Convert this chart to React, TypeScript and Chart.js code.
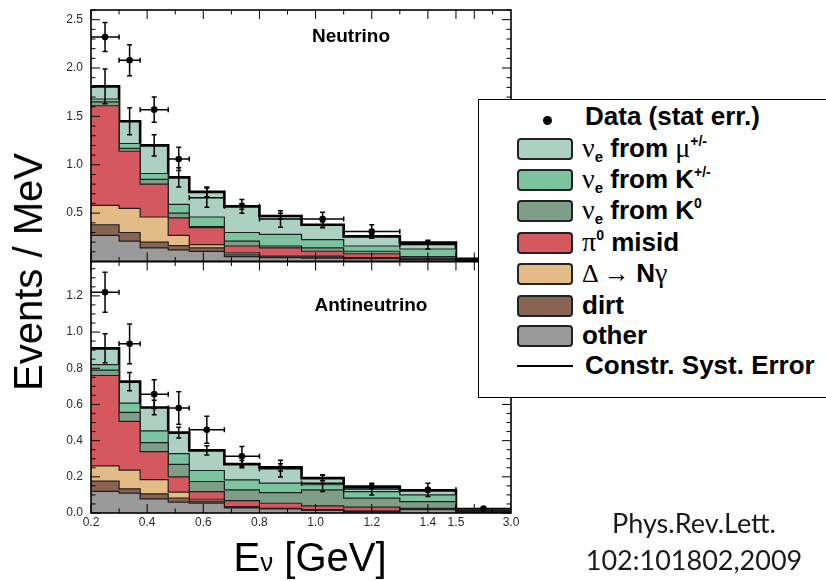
import React, { useEffect, useRef } from 'react';
import { Chart, registerables } from 'chart.js';

Chart.register(...registerables);

// ---------- DATA ----------
// Reconstructed-energy bin edges (GeV)
const binEdges = [0.2, 0.3, 0.375, 0.475, 0.55, 0.675, 0.8, 0.95, 1.1, 1.3, 1.5, 3.0];

// Neutrino mode, events / MeV, stacked bottom -> top
const nuOther = [0.27, 0.21, 0.14, 0.12, 0.105, 0.05, 0.04, 0.035, 0.03, 0.02, 0.008];
const nuDirt = [0.11, 0.09, 0.06, 0.045, 0.035, 0.02, 0.005, 0.01, 0.005, 0.002, 0.001];
const nuDelta = [0.2, 0.25, 0.26, 0.105, 0.035, 0.02, 0.01, 0.01, 0.005, 0.003, 0.001];
const nuPi0 = [1.03, 0.59, 0.34, 0.18, 0.175, 0.07, 0.085, 0.051, 0.04, 0.01, 0.002];
const nuK0 = [0.04, 0.03, 0.05, 0.05, 0.01, 0.05, 0.02, 0.034, 0.026, 0.015, 0.004];
const nuKpm = [0.03, 0.05, 0.06, 0.09, 0.1, 0.09, 0.12, 0.087, 0.054, 0.079, 0.006];
const nuMu = [0.13, 0.23, 0.29, 0.28, 0.26, 0.27, 0.19, 0.153, 0.1, 0.066, 0.006];
const nuData = [2.32, 2.08, 1.57, 1.06, 0.66, 0.57, 0.44, 0.44, 0.31, 0.175, 0.01];
const nuStatErr = [0.15, 0.16, 0.13, 0.12, 0.1, 0.07, 0.085, 0.07, 0.07, 0.045, 0.01];
const nuSystErr = [0.18, 0.14, 0.11, 0.1, 0.05, 0.03, 0.03, 0.03, 0.02, 0.015, 0.005];

// Antineutrino mode, events / MeV, stacked bottom -> top
const nubarOther = [0.12, 0.11, 0.078, 0.06, 0.055, 0.028, 0.022, 0.015, 0.008, 0.018, 0.004];
const nubarDirt = [0.056, 0.023, 0.028, 0.023, 0.011, 0.004, 0.002, 0.001, 0.001, 0.001, 0.001];
const nubarDelta = [0.084, 0.104, 0.079, 0.032, 0.01, 0.003, 0.002, 0.001, 0.001, 0.001, 0.0];
const nubarPi0 = [0.5, 0.269, 0.154, 0.085, 0.042, 0.033, 0.028, 0.022, 0.022, 0.006, 0.001];
const nubarK0 = [0.03, 0.05, 0.05, 0.069, 0.056, 0.06, 0.059, 0.089, 0.05, 0.037, 0.003];
const nubarKpm = [0.03, 0.051, 0.065, 0.059, 0.061, 0.055, 0.052, 0.028, 0.036, 0.037, 0.002];
const nubarMu = [0.09, 0.119, 0.129, 0.116, 0.111, 0.087, 0.087, 0.037, 0.028, 0.025, 0.002];
const nubarData = [1.22, 0.935, 0.657, 0.58, 0.46, 0.313, 0.245, 0.165, 0.132, 0.128, 0.025];
const nubarStatErr = [0.11, 0.11, 0.08, 0.09, 0.075, 0.055, 0.046, 0.046, 0.032, 0.037, 0.01];
const nubarSystErr = [0.08, 0.05, 0.04, 0.03, 0.025, 0.02, 0.02, 0.015, 0.01, 0.01, 0.003];

// Layer names / colours (bottom -> top)
const layerNames = ['other', 'dirt', 'Δ → Nγ', 'π0 misid', 'νe from K0', 'νe from K+/-', 'νe from μ+/-'];
const layerColors = ['#9a9a9a', '#8a6452', '#e3bb86', '#d4585d', '#7f9e88', '#7cc49f', '#acd1c3'];

// Tick labels
const xTickValues = [0.2, 0.4, 0.6, 0.8, 1.0, 1.2, 1.4, 1.5, 3.0];
const xTickLabels = ['0.2', '0.4', '0.6', '0.8', '1.0', '1.2', '1.4', '1.5', '3.0'];
const nuYTickValues = [0.5, 1.0, 1.5, 2.0, 2.5];
const nuYTickLabels = ['0.5', '1.0', '1.5', '2.0', '2.5'];
const nubarYTickValues = [0.0, 0.2, 0.4, 0.6, 0.8, 1.0, 1.2];
const nubarYTickLabels = ['0.0', '0.2', '0.4', '0.6', '0.8', '1.0', '1.2'];

// ---------- AXIS TRANSFORM (1.5–3.0 GeV compressed) ----------
const X_BREAK = 1.5;
const TAIL_SCALE = 0.1307;
const tx = (e: number) => (e <= X_BREAK ? e : X_BREAK + (e - X_BREAK) * TAIL_SCALE);

const nuLayers = [nuOther, nuDirt, nuDelta, nuPi0, nuK0, nuKpm, nuMu];
const nubarLayers = [nubarOther, nubarDirt, nubarDelta, nubarPi0, nubarK0, nubarKpm, nubarMu];

function totalsOf(layers: number[][]) {
  return layers[0].map((_, i) => layers.reduce((s, l) => s + l[i], 0));
}
const nuTotals = totalsOf(nuLayers);
const nubarTotals = totalsOf(nubarLayers);

function stackDatasets(layers: number[][], yAxisID: string) {
  const n = layers[0].length;
  const cum = new Array(n).fill(0);
  return layers.map((vals, li) => {
    for (let i = 0; i < n; i++) cum[i] += vals[i];
    const snap = cum.slice();
    const pts = binEdges.map((e, i) => ({ x: tx(e), y: snap[Math.min(i, n - 1)] }));
    const top = li === layers.length - 1;
    return {
      type: 'line',
      label: layerNames[li],
      data: pts,
      xAxisID: 'x',
      yAxisID,
      stepped: 'before',
      fill: li === 0 ? 'origin' : '-1',
      backgroundColor: layerColors[li],
      borderColor: top ? '#000' : '#1e1e1e',
      borderWidth: top ? 2.6 : 1.2,
      pointRadius: 0,
      tension: 0,
    };
  });
}

function pointDataset(data: number[], yAxisID: string) {
  return {
    type: 'line',
    label: 'Data',
    data: data.map((v, i) => ({ x: (tx(binEdges[i]) + tx(binEdges[i + 1])) / 2, y: v })),
    xAxisID: 'x',
    yAxisID,
    showLine: false,
    fill: false,
    pointRadius: 3.3,
    pointBackgroundColor: '#000',
    pointBorderWidth: 0,
    borderColor: '#000',
  };
}

const panelPlugin = {
  id: 'panels',
  afterDatasetsDraw(chart: any) {
    const ctx: CanvasRenderingContext2D = chart.ctx;
    const xs = chart.scales.x;
    const panels = [
      {
        ys: chart.scales.yNu, data: nuData, stat: nuStatErr, syst: nuSystErr, totals: nuTotals,
        tv: nuYTickValues, tl: nuYTickLabels, major: 0.5, minor: 0.1,
      },
      {
        ys: chart.scales.yNubar, data: nubarData, stat: nubarStatErr, syst: nubarSystErr, totals: nubarTotals,
        tv: nubarYTickValues, tl: nubarYTickLabels, major: 0.2, minor: 0.05,
      },
    ];
    const L = xs.left, R = xs.right;
    const lowest = Math.max(...panels.map((p) => p.ys.bottom));
    panels.forEach((p) => {
      const T = p.ys.top, B = p.ys.bottom;
      ctx.save();
      ctx.beginPath();
      ctx.rect(L, T, R - L, B - T);
      ctx.clip();
      ctx.strokeStyle = '#000';
      ctx.lineWidth = 1.5;
      const cap = 2.5;
      for (let i = 0; i < p.data.length; i++) {
        const x0 = xs.getPixelForValue(tx(binEdges[i]));
        const x1 = xs.getPixelForValue(tx(binEdges[i + 1]));
        const cx = (x0 + x1) / 2;
        // systematic error on prediction
        const st = p.totals[i];
        const sy0 = p.ys.getPixelForValue(st - p.syst[i]);
        const sy1 = p.ys.getPixelForValue(st + p.syst[i]);
        ctx.beginPath();
        ctx.moveTo(cx, sy0); ctx.lineTo(cx, sy1);
        ctx.moveTo(cx - cap, sy0); ctx.lineTo(cx + cap, sy0);
        ctx.moveTo(cx - cap, sy1); ctx.lineTo(cx + cap, sy1);
        ctx.stroke();
        // data stat error
        const y = p.ys.getPixelForValue(p.data[i]);
        const y0 = p.ys.getPixelForValue(p.data[i] - p.stat[i]);
        const y1 = p.ys.getPixelForValue(p.data[i] + p.stat[i]);
        ctx.beginPath();
        ctx.moveTo(x0, y); ctx.lineTo(x1, y);
        ctx.moveTo(x0, y - cap); ctx.lineTo(x0, y + cap);
        ctx.moveTo(x1, y - cap); ctx.lineTo(x1, y + cap);
        ctx.moveTo(cx, y0); ctx.lineTo(cx, y1);
        ctx.moveTo(cx - cap, y0); ctx.lineTo(cx + cap, y0);
        ctx.moveTo(cx - cap, y1); ctx.lineTo(cx + cap, y1);
        ctx.stroke();
      }
      ctx.restore();

      // frame
      ctx.save();
      ctx.strokeStyle = '#000';
      ctx.lineWidth = 1.6;
      ctx.strokeRect(L, T, R - L, B - T);

      // y ticks
      ctx.lineWidth = 1;
      const ymax = p.ys.max;
      for (let k = 0; k * p.minor <= ymax + 1e-9; k++) {
        const v = k * p.minor;
        const isMajor = Math.abs(v / p.major - Math.round(v / p.major)) < 1e-6;
        const len = isMajor ? 9 : 4.5;
        const py = p.ys.getPixelForValue(v);
        ctx.beginPath();
        ctx.moveTo(L, py); ctx.lineTo(L + len, py);
        ctx.moveTo(R, py); ctx.lineTo(R - len, py);
        ctx.stroke();
      }
      // x ticks (bottom & top of panel)
      const xMinor: number[] = [];
      for (let k = 2; k <= 15; k++) xMinor.push(k / 10);
      xMinor.push(2.0, 2.5);
      xMinor.forEach((e) => {
        const isMajor = xTickValues.includes(e) || Math.abs(e * 5 - Math.round(e * 5)) < 1e-6;
        const len = isMajor ? 9 : 4.5;
        const px = xs.getPixelForValue(tx(e));
        ctx.beginPath();
        ctx.moveTo(px, B); ctx.lineTo(px, B - len);
        ctx.moveTo(px, T); ctx.lineTo(px, T + len);
        ctx.stroke();
      });

      // y labels
      ctx.fillStyle = '#2a2a2a';
      ctx.font = '12px "Liberation Sans", Arial, sans-serif';
      ctx.textAlign = 'right';
      ctx.textBaseline = 'middle';
      p.tv.forEach((v, i) => {
        ctx.fillText(p.tl[i], L - 8, p.ys.getPixelForValue(v));
      });
      // x labels under the lowest panel
      if (B === lowest) {
        ctx.textAlign = 'center';
        ctx.textBaseline = 'middle';
        xTickValues.forEach((e, i) => {
          ctx.fillText(xTickLabels[i], xs.getPixelForValue(tx(e)), B + 10);
        });
      }
      ctx.restore();
    });
  },
};

const SANS = '"Liberation Sans", Arial, Helvetica, sans-serif';
const SERIF = '"Liberation Serif", "DejaVu Serif", serif';

const Gk = ({ children, size = 28 }: { children: React.ReactNode; size?: number }) => (
  <span style={{ fontFamily: SERIF, fontWeight: 400, fontSize: size }}>{children}</span>
);
const Sub = ({ children }: { children: React.ReactNode }) => (
  <span style={{ fontSize: 15, position: 'relative', top: 5 }}>{children}</span>
);
const Sup = ({ children }: { children: React.ReactNode }) => (
  <span style={{ fontSize: 14, position: 'relative', top: -11 }}>{children}</span>
);

const legendRows: { color: string; label: React.ReactNode }[] = [
  { color: layerColors[6], label: <><Gk>ν</Gk><Sub>e</Sub> from <Gk>μ</Gk><Sup>+/-</Sup></> },
  { color: layerColors[5], label: <><Gk>ν</Gk><Sub>e</Sub> from K<Sup>+/-</Sup></> },
  { color: layerColors[4], label: <><Gk>ν</Gk><Sub>e</Sub> from K<Sup>0</Sup></> },
  { color: layerColors[3], label: <><Gk>π</Gk><Sup>0</Sup> misid</> },
  { color: layerColors[2], label: <><Gk size={26}>Δ → </Gk>N<Gk>γ</Gk></> },
  { color: layerColors[1], label: <>dirt</> },
  { color: layerColors[0], label: <>other</> },
];
const swatchTops = [138, 169, 200, 232, 263, 295, 325];

export default function App() {
  const ref = useRef<HTMLCanvasElement>(null);
  useEffect(() => {
    const datasets: any[] = [
      ...stackDatasets(nuLayers, 'yNu'),
      ...stackDatasets(nubarLayers, 'yNubar'),
      pointDataset(nuData, 'yNu'),
      pointDataset(nubarData, 'yNubar'),
    ];
    const hidden = {
      display: true,
      ticks: { display: false },
      grid: { display: false, drawTicks: false },
      border: { display: false },
      title: { display: false },
    };
    const chart = new Chart(ref.current as HTMLCanvasElement, {
      type: 'line',
      data: { datasets },
      options: {
        animation: false,
        responsive: false,
        maintainAspectRatio: false,
        layout: { padding: { left: 91, top: 10, right: 315, bottom: 68 } },
        plugins: { legend: { display: false }, tooltip: { enabled: false } },
        scales: {
          x: { type: 'linear', min: tx(0.2), max: tx(3.0), ...hidden } as any,
          // in a left-side axis stack, the scale listed last is placed on top
          yNubar: { type: 'linear', position: 'left', stack: 'panels', stackWeight: 1, min: 0, max: 1.39, ...hidden } as any,
          yNu: { type: 'linear', position: 'left', stack: 'panels', stackWeight: 1, min: 0, max: 2.6, ...hidden } as any,
        },
      },
      plugins: [panelPlugin as any],
    });
    return () => chart.destroy();
  }, []);

  const abs: React.CSSProperties = { position: 'absolute', whiteSpace: 'nowrap' };
  return (
    <div style={{ position: 'absolute', left: 0, top: 0, width: 826, height: 581, overflow: 'hidden', background: '#fff' }}>
      <canvas ref={ref} width={826} height={581} style={{ position: 'absolute', left: 0, top: 0, width: 826, height: 581 }} />

      {/* panel labels */}
      <div style={{ ...abs, left: 351, top: 34.5, transform: 'translate(-50%,-50%)', font: `bold 19px ${SANS}`, lineHeight: '19px' }}>Neutrino</div>
      <div style={{ ...abs, left: 371, top: 303.5, transform: 'translate(-50%,-50%)', font: `bold 19px ${SANS}`, lineHeight: '19px' }}>Antineutrino</div>

      {/* y axis title */}
      <div style={{ ...abs, left: 28, top: 272, transform: 'translate(-50%,-50%) rotate(-90deg)', font: `40px ${SANS}`, lineHeight: '40px', color: '#000' }}>Events / MeV</div>

      {/* x axis title */}
      <div style={{ ...abs, left: 310, top: 559, transform: 'translate(-50%,-50%)', font: `40px ${SANS}`, lineHeight: '40px', color: '#000' }}>
        E<span style={{ fontSize: 26 }}>ν</span> [GeV]
      </div>

      {/* citation */}
      <div style={{ ...abs, left: 694, top: 522, transform: 'translate(-50%,-50%)', font: `27px Lato, "Open Sans", sans-serif`, lineHeight: '27px', color: '#1a1a1a' }}>Phys.Rev.Lett.</div>
      <div style={{ ...abs, left: 694, top: 559, transform: 'translate(-50%,-50%)', font: `27px Lato, "Open Sans", sans-serif`, lineHeight: '27px', color: '#1a1a1a' }}>102:101802,2009</div>

      {/* legend */}
      <div style={{ position: 'absolute', left: 478, top: 99, width: 400, height: 299, border: '1.5px solid #000', background: '#fff', boxSizing: 'border-box' }} />
      <div style={{ position: 'absolute', left: 542.5, top: 115.5, width: 9, height: 9, borderRadius: '50%', background: '#000' }} />
      <div style={{ ...abs, left: 585, top: 103, font: `bold 26px ${SANS}`, lineHeight: '26px' }}>Data (stat err.)</div>
      {legendRows.map((r, i) => (
        <React.Fragment key={i}>
          <div style={{ position: 'absolute', left: 517, top: swatchTops[i], width: 56, height: 22, boxSizing: 'border-box', border: '2px solid #222', borderRadius: 4, background: r.color }} />
          <div style={{ ...abs, left: 582, top: swatchTops[i] - 3.5, font: `bold 26px ${SANS}`, lineHeight: '26px' }}>{r.label}</div>
        </React.Fragment>
      ))}
      <div style={{ position: 'absolute', left: 517, top: 365, width: 56, height: 2, background: '#000' }} />
      <div style={{ ...abs, left: 585, top: 352, font: `bold 26px ${SANS}`, lineHeight: '26px' }}>Constr. Syst. Error</div>
    </div>
  );
}
